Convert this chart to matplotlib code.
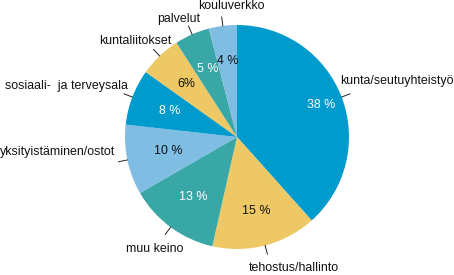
import matplotlib
matplotlib.use("Agg")
import matplotlib.pyplot as plt
import numpy as np

categories = ["kunta/seutuyhteistyö", "tehostus/hallinto", "muu keino",
              "yksityistäminen/ostot", "sosiaali-  ja terveysala", "kuntaliitokset",
              "palvelut", "kouluverkko"]
values = [38, 15, 13, 10, 8, 6, 5, 4]
pct_labels = ["38 %", "15 %", "13 %", "10 %", "8 %", "6%", "5 %", "4 %"]

colors = ["#009bcd", "#edc865", "#3aa7a7", "#80bde3",
          "#009bcd", "#edc865", "#3aa7a7", "#80bde3"]
pct_colors = ["white", "#111111", "white", "#111111", "white", "#111111", "white", "#111111"]
pct_dist = [0.80, 0.68, 0.66, 0.63, 0.64, 0.66, 0.66, 0.68]
# label text offsets from wedge edge (pixels) and alignment
label_off = [(-1, 16, "left"), (29, -23, "center"), (-16, -22, "center"),
             (-12, 8, "right"), (-5, 11, "right"), (-24, 15, "center"),
             (-13, 15, "center"), (9, 20, "center")]

W, H = 454, 275
fig = plt.figure(figsize=(W / 100, H / 100), dpi=100)
ax = fig.add_axes([0, 0, 1, 1])
R = 112.0
cx, cy = 237.0, 138.0

wedges, _ = ax.pie(values, colors=colors, startangle=90, counterclock=False,
                   wedgeprops=dict(linewidth=0))
ax.set_aspect("auto")
ax.set_xlim(-cx / R, (W - cx) / R)
ax.set_ylim(-cy / R, (H - cy) / R)
ax.axis("off")

font = dict(family=["Liberation Sans", "DejaVu Sans"], fontsize=8.9)
for w, lab, pl, pc, pd, off in zip(wedges, categories, pct_labels, pct_colors, pct_dist, label_off):
    mid = np.deg2rad((w.theta1 + w.theta2) / 2)
    c, s = np.cos(mid), np.sin(mid)
    ax.text(pd * c, pd * s, pl, color=pc, ha="center", va="center", **font)
    ax.plot([1.0 * c, 1.08 * c], [1.0 * s, 1.08 * s], color="#222222", lw=0.7)
    dx, dy, ha = off
    ax.annotate(lab, xy=(c, s), xytext=(dx, dy), textcoords="offset pixels",
                ha=ha, va="center", color="#111111", **font)

fig.savefig("out.png", dpi=100)
